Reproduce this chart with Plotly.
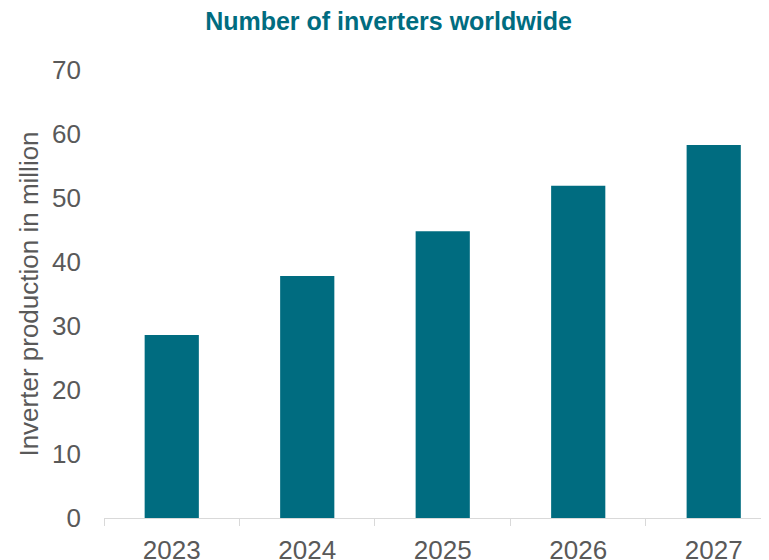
import plotly.graph_objects as go

years = ["2023", "2024", "2025", "2026", "2027"]
production = [28.6, 37.8, 44.8, 51.9, 58.3]

bar_color = "#006C80"
title_color = "#006C80"
text_color = "#595959"
axis_color = "#D9D9D9"
font_family = "Liberation Sans, Arial, sans-serif"

fig = go.Figure()
fig.add_trace(go.Bar(
    x=years, y=production, width=0.4,
    marker=dict(color=bar_color, line=dict(width=0)),
    hoverinfo="x+y",
))

fig.update_layout(
    width=761, height=552,
    margin=dict(l=96, r=0, t=62, b=42, autoexpand=False),
    paper_bgcolor="white", plot_bgcolor="white",
    showlegend=False,
    font=dict(family=font_family, color=text_color, size=26),
    title=dict(
        text="<b>Number of inverters worldwide</b>",
        font=dict(family=font_family, size=25, color=title_color),
        x=0.5, xanchor="center", y=0.9755, yanchor="middle",
    ),
)

fig.update_xaxes(
    type="category", range=[-0.5, 4.408], automargin=False,
    showline=True, linecolor=axis_color, linewidth=1.3,
    ticks="outside", tickson="boundaries", ticklen=7, tickcolor=axis_color, tickwidth=1.3,
    showgrid=False, zeroline=False,
    tickfont=dict(size=26, color=text_color),
    ticklabelstandoff=9,
)
fig.update_yaxes(
    range=[0, 70], dtick=10, tick0=0, automargin=False,
    showline=False, showgrid=False, zeroline=False,
    ticks="", ticklabelstandoff=22,
    tickfont=dict(size=26, color=text_color),
    title=dict(text="Inverter production in million", font=dict(size=26, color=text_color), standoff=5),
)

fig.write_html("out.html")
